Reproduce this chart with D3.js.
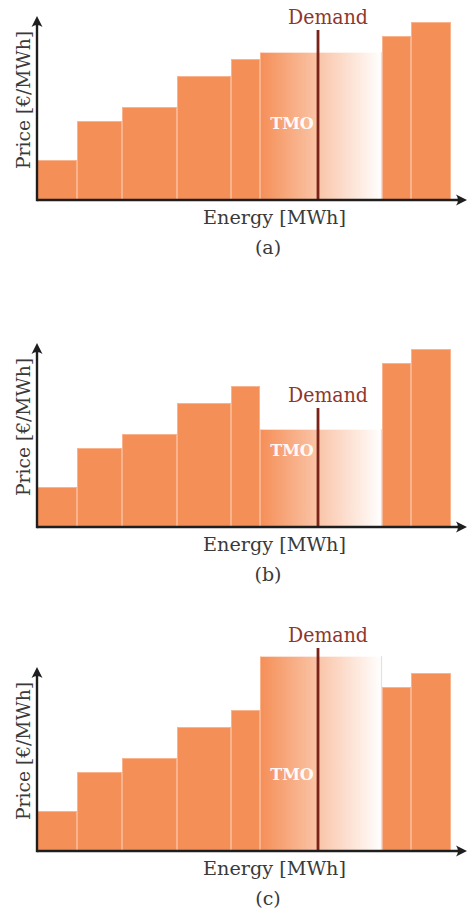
<!DOCTYPE html>
<html>
<head>
<meta charset="utf-8">
<script src="https://cdn.jsdelivr.net/npm/d3@7"></script>
<style>
  html, body { margin: 0; padding: 0; background: #ffffff; }
  svg { display: block; }
</style>
</head>
<body>
<svg id="chart" width="467" height="912"></svg>
<script>
// Supply blocks (merit order): energy offered by each block and its bid price.
const blockEnergy = [40, 45, 55, 54, 29, 122, 29, 40];          // MWh
const pricesBase  = [40, 79, 93, 124, 141, 148, 164, 178];       // €/MWh
// The marginal (TMO) block is the sixth one; its price differs per case.
const tmoIndex = 5;
const tmoPrice = [148, 98, 195];                                  // (a), (b), (c)
const demandEnergy = 281;                                         // MWh
const demandTop = [170, 119, 203];                                // height of the demand marker
const panelNames = ["(a)", "(b)", "(c)"];
const panelAxisY = [200, 527, 851];

const W = 467;
const x0 = 37;
const xMax = 430;     // energy range shown on the axis
const yMax = 184;     // price range shown on the axis

const FONT = "DejaVu Serif";

const svg = d3.select("#chart");
const defs = svg.append("defs");

const barFill = "#F58F58";
const barEdge = "#F9B48E";
const axisColor = "#1e1e1e";
const textColor = "#3a3a3a";
const demandColor = "#7B2318";
const demandText = "#8E362B";

const grad = defs.append("linearGradient")
  .attr("id", "tmoGrad").attr("x1", "0%").attr("x2", "100%").attr("y1", "0%").attr("y2", "0%");
grad.append("stop").attr("offset", "0%").attr("stop-color", barFill);
grad.append("stop").attr("offset", "100%").attr("stop-color", "#ffffff");

const x = d3.scaleLinear().domain([0, xMax]).range([x0, W]);

// cumulative start of each block
const starts = [];
blockEnergy.reduce((acc, e) => { starts.push(acc); return acc + e; }, 0);

function arrowHead(g, tx, ty, angle) {
  // stealth-like arrow head pointing in +x, rotated by angle
  g.append("path")
    .attr("d", "M0,0 L-11,-5.5 Q-7,0 -11,5.5 Z")
    .attr("transform", `translate(${tx},${ty}) rotate(${angle})`)
    .attr("fill", axisColor);
}

panelNames.forEach((name, p) => {
  const axisY = panelAxisY[p];
  const y = d3.scaleLinear().domain([0, yMax]).range([axisY, axisY - yMax]);
  const prices = pricesBase.map((v, i) => i === tmoIndex ? tmoPrice[p] : v);
  const blocks = blockEnergy.map((e, i) => ({ start: starts[i], energy: e, price: prices[i], tmo: i === tmoIndex }));

  const g = svg.append("g").attr("font-family", FONT);

  // supply blocks
  g.selectAll("rect.block").data(blocks).join("rect")
    .attr("class", "block")
    .attr("x", d => x(d.start) + 0.5)
    .attr("y", d => y(d.price) + 0.5)
    .attr("width", d => x(d.start + d.energy) - x(d.start) - 1)
    .attr("height", d => y(0) - y(d.price) - 0.5)
    .attr("fill", d => d.tmo ? "url(#tmoGrad)" : barFill)
    .attr("stroke", d => d.tmo ? "none" : barEdge)
    .attr("stroke-width", 1);

  // faint edges of the marginal block
  const t = blocks[tmoIndex];
  g.append("line")
    .attr("x1", x(t.start) + 0.5).attr("x2", x(t.start) + 0.5)
    .attr("y1", y(t.price)).attr("y2", y(0))
    .attr("stroke", barEdge).attr("stroke-width", 1);
  g.append("line")
    .attr("x1", x(t.start)).attr("x2", x(t.start + t.energy))
    .attr("y1", y(t.price) + 0.5).attr("y2", y(t.price) + 0.5)
    .attr("stroke", "#ffffff").attr("stroke-opacity", 0.35).attr("stroke-width", 1);
  g.append("line")
    .attr("x1", x(t.start + t.energy) - 0.5).attr("x2", x(t.start + t.energy) - 0.5)
    .attr("y1", y(t.price)).attr("y2", y(0))
    .attr("stroke", "#e2e2e2").attr("stroke-width", 1.2);

  // TMO label
  g.append("text")
    .attr("x", x(t.start) + 32).attr("y", y(71))
    .attr("text-anchor", "middle")
    .attr("font-weight", "bold").attr("font-size", 16)
    .attr("fill", "#ffffff").attr("fill-opacity", 0.95)
    .text("TMO");

  // demand marker
  g.append("line")
    .attr("x1", x(demandEnergy)).attr("x2", x(demandEnergy))
    .attr("y1", y(demandTop[p])).attr("y2", y(0))
    .attr("stroke", demandColor).attr("stroke-width", 2.8);
  g.append("text")
    .attr("x", x(demandEnergy) + 10).attr("y", y(demandTop[p]) - 6)
    .attr("text-anchor", "middle")
    .attr("font-size", 20)
    .attr("textLength", 80).attr("lengthAdjust", "spacingAndGlyphs")
    .attr("fill", demandText)
    .text("Demand");

  // axes
  g.append("line")
    .attr("x1", x(0)).attr("x2", W - 4)
    .attr("y1", y(0)).attr("y2", y(0))
    .attr("stroke", axisColor).attr("stroke-width", 2.4);
  g.append("line")
    .attr("x1", x(0)).attr("x2", x(0))
    .attr("y1", y(0) + 1.2).attr("y2", y(yMax) + 6)
    .attr("stroke", axisColor).attr("stroke-width", 2.4);
  arrowHead(g, W, y(0), 0);
  arrowHead(g, x(0), y(yMax), -90);

  // axis titles
  g.append("text")
    .attr("transform", `translate(30,${axisY - 100}) rotate(-90)`)
    .attr("text-anchor", "middle")
    .attr("font-size", 19)
    .attr("textLength", 138).attr("lengthAdjust", "spacingAndGlyphs")
    .attr("fill", textColor)
    .text("Price [€/MWh]");
  g.append("text")
    .attr("x", 274.5).attr("y", axisY + 23.5)
    .attr("text-anchor", "middle")
    .attr("font-size", 19)
    .attr("textLength", 143).attr("lengthAdjust", "spacingAndGlyphs")
    .attr("fill", textColor)
    .text("Energy [MWh]");

  // sub-caption
  g.append("text")
    .attr("x", 268).attr("y", axisY + 53.5)
    .attr("text-anchor", "middle")
    .attr("font-size", 19)
    .attr("fill", textColor)
    .text(name);
});
</script>
</body>
</html>
